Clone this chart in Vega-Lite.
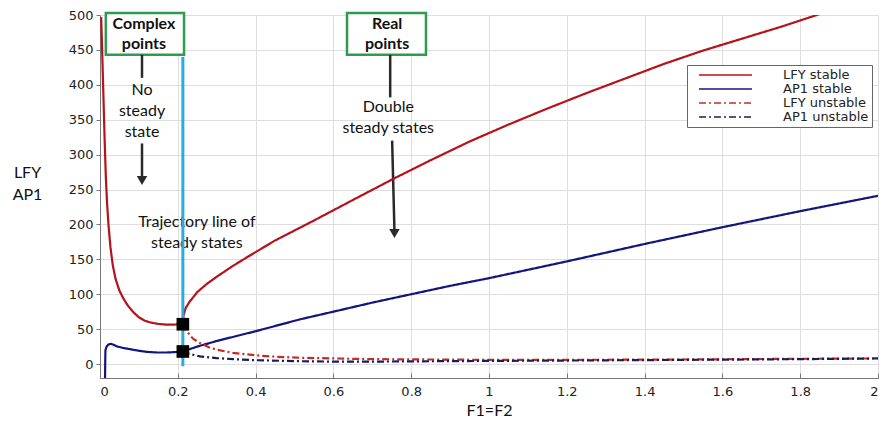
{
  "$schema": "https://vega.github.io/schema/vega-lite/v6.json",
  "width": 778,
  "height": 363,
  "autosize": {"type": "none"},
  "padding": {"left": 100, "top": 15, "right": 12, "bottom": 44},
  "background": "white",
  "config": {
    "view": {"stroke": null},
    "axis": {
      "domainColor": "#777",
      "gridColor": "#dedede",
      "tickColor": "#777",
      "labelFont": "DejaVu Sans",
      "labelFontSize": 13,
      "labelColor": "#222",
      "titleFont": "Lato",
      "titleFontSize": 16,
      "titleFontWeight": "normal",
      "titleColor": "#111"
    }
  },
  "datasets": {
    "curves": [
      {"series": "LFY stable", "x": 0.003, "y": 497}, {"series": "LFY stable", "x": 0.006, "y": 440},
      {"series": "LFY stable", "x": 0.009, "y": 380}, {"series": "LFY stable", "x": 0.012, "y": 320},
      {"series": "LFY stable", "x": 0.015, "y": 268}, {"series": "LFY stable", "x": 0.018, "y": 232},
      {"series": "LFY stable", "x": 0.022, "y": 198}, {"series": "LFY stable", "x": 0.027, "y": 167},
      {"series": "LFY stable", "x": 0.033, "y": 141}, {"series": "LFY stable", "x": 0.04, "y": 122},
      {"series": "LFY stable", "x": 0.05, "y": 105}, {"series": "LFY stable", "x": 0.06, "y": 94},
      {"series": "LFY stable", "x": 0.07, "y": 85}, {"series": "LFY stable", "x": 0.08, "y": 78},
      {"series": "LFY stable", "x": 0.09, "y": 72}, {"series": "LFY stable", "x": 0.1, "y": 67},
      {"series": "LFY stable", "x": 0.115, "y": 62}, {"series": "LFY stable", "x": 0.13, "y": 59.5},
      {"series": "LFY stable", "x": 0.15, "y": 57.5}, {"series": "LFY stable", "x": 0.17, "y": 56.5},
      {"series": "LFY stable", "x": 0.19, "y": 56.5}, {"series": "LFY stable", "x": 0.205, "y": 57},
      {"series": "LFY stable", "x": 0.213, "y": 57}, {"series": "LFY stable", "x": 0.2135, "y": 64},
      {"series": "LFY stable", "x": 0.215, "y": 70}, {"series": "LFY stable", "x": 0.22, "y": 80},
      {"series": "LFY stable", "x": 0.23, "y": 89}, {"series": "LFY stable", "x": 0.25, "y": 103},
      {"series": "LFY stable", "x": 0.275, "y": 115}, {"series": "LFY stable", "x": 0.3, "y": 125},
      {"series": "LFY stable", "x": 0.34, "y": 140}, {"series": "LFY stable", "x": 0.378, "y": 153},
      {"series": "LFY stable", "x": 0.45, "y": 177}, {"series": "LFY stable", "x": 0.548, "y": 205},
      {"series": "LFY stable", "x": 0.65, "y": 235},
      {"series": "LFY stable", "x": 0.753, "y": 265}, {"series": "LFY stable", "x": 0.85, "y": 292},
      {"series": "LFY stable", "x": 0.951, "y": 319}, {"series": "LFY stable", "x": 1.05, "y": 343},
      {"series": "LFY stable", "x": 1.15, "y": 366}, {"series": "LFY stable", "x": 1.25, "y": 388},
      {"series": "LFY stable", "x": 1.35, "y": 409}, {"series": "LFY stable", "x": 1.45, "y": 430},
      {"series": "LFY stable", "x": 1.55, "y": 449}, {"series": "LFY stable", "x": 1.65, "y": 466},
      {"series": "LFY stable", "x": 1.75, "y": 483}, {"series": "LFY stable", "x": 1.87, "y": 505},

      {"series": "AP1 stable", "x": 0.013, "y": -20}, {"series": "AP1 stable", "x": 0.0135, "y": 5},
      {"series": "AP1 stable", "x": 0.014, "y": 20}, {"series": "AP1 stable", "x": 0.017, "y": 25},
      {"series": "AP1 stable", "x": 0.022, "y": 28}, {"series": "AP1 stable", "x": 0.028, "y": 29},
      {"series": "AP1 stable", "x": 0.035, "y": 27.5}, {"series": "AP1 stable", "x": 0.045, "y": 25},
      {"series": "AP1 stable", "x": 0.06, "y": 23}, {"series": "AP1 stable", "x": 0.08, "y": 21},
      {"series": "AP1 stable", "x": 0.1, "y": 19}, {"series": "AP1 stable", "x": 0.12, "y": 17.5},
      {"series": "AP1 stable", "x": 0.146, "y": 16.5}, {"series": "AP1 stable", "x": 0.17, "y": 16.5},
      {"series": "AP1 stable", "x": 0.19, "y": 17}, {"series": "AP1 stable", "x": 0.213, "y": 18},
      {"series": "AP1 stable", "x": 0.25, "y": 25}, {"series": "AP1 stable", "x": 0.3, "y": 33},
      {"series": "AP1 stable", "x": 0.4, "y": 47}, {"series": "AP1 stable", "x": 0.514, "y": 64},
      {"series": "AP1 stable", "x": 0.6, "y": 75}, {"series": "AP1 stable", "x": 0.7, "y": 88},
      {"series": "AP1 stable", "x": 0.8, "y": 100}, {"series": "AP1 stable", "x": 0.9, "y": 112},
      {"series": "AP1 stable", "x": 1.0, "y": 123}, {"series": "AP1 stable", "x": 1.2, "y": 147},
      {"series": "AP1 stable", "x": 1.4, "y": 172}, {"series": "AP1 stable", "x": 1.6, "y": 196},
      {"series": "AP1 stable", "x": 1.8, "y": 219}, {"series": "AP1 stable", "x": 2.0, "y": 241},

      {"series": "LFY unstable", "x": 0.213, "y": 57}, {"series": "LFY unstable", "x": 0.22, "y": 50},
      {"series": "LFY unstable", "x": 0.23, "y": 42}, {"series": "LFY unstable", "x": 0.24, "y": 36},
      {"series": "LFY unstable", "x": 0.257, "y": 30}, {"series": "LFY unstable", "x": 0.28, "y": 24},
      {"series": "LFY unstable", "x": 0.3, "y": 20.5}, {"series": "LFY unstable", "x": 0.342, "y": 16},
      {"series": "LFY unstable", "x": 0.4, "y": 12.5}, {"series": "LFY unstable", "x": 0.45, "y": 10.5},
      {"series": "LFY unstable", "x": 0.514, "y": 9}, {"series": "LFY unstable", "x": 0.6, "y": 8},
      {"series": "LFY unstable", "x": 0.7, "y": 7}, {"series": "LFY unstable", "x": 0.85, "y": 6.5},
      {"series": "LFY unstable", "x": 1.0, "y": 6}, {"series": "LFY unstable", "x": 1.2, "y": 6},
      {"series": "LFY unstable", "x": 1.5, "y": 6.5}, {"series": "LFY unstable", "x": 1.8, "y": 7.5},
      {"series": "LFY unstable", "x": 2.0, "y": 8},

      {"series": "AP1 unstable", "x": 0.213, "y": 18}, {"series": "AP1 unstable", "x": 0.23, "y": 14.5},
      {"series": "AP1 unstable", "x": 0.257, "y": 11}, {"series": "AP1 unstable", "x": 0.3, "y": 8.5},
      {"series": "AP1 unstable", "x": 0.342, "y": 7}, {"series": "AP1 unstable", "x": 0.4, "y": 5.5},
      {"series": "AP1 unstable", "x": 0.514, "y": 4}, {"series": "AP1 unstable", "x": 0.6, "y": 3.5},
      {"series": "AP1 unstable", "x": 0.7, "y": 3.5}, {"series": "AP1 unstable", "x": 0.85, "y": 4},
      {"series": "AP1 unstable", "x": 1.0, "y": 4.5}, {"series": "AP1 unstable", "x": 1.2, "y": 5},
      {"series": "AP1 unstable", "x": 1.5, "y": 6}, {"series": "AP1 unstable", "x": 1.8, "y": 7},
      {"series": "AP1 unstable", "x": 2.0, "y": 8}
    ],
    "boxes": [
      {"x": 0.015, "x2": 0.216, "y": 503, "y2": 443},
      {"x": 0.635, "x2": 0.838, "y": 503, "y2": 443}
    ],
    "boxlabels": [
      {"x": 0.113, "y": 487, "text": "Complex"},
      {"x": 0.113, "y": 458, "text": "points"},
      {"x": 0.738, "y": 487, "text": "Real"},
      {"x": 0.738, "y": 458, "text": "points"}
    ],
    "notes": [
      {"x": 0.108, "y": 392, "text": "No"},
      {"x": 0.108, "y": 362, "text": "steady"},
      {"x": 0.108, "y": 333, "text": "state"},
      {"x": 0.741, "y": 368, "text": "Double"},
      {"x": 0.741, "y": 338, "text": "steady states"},
      {"x": 0.249, "y": 203, "text": "Trajectory line of"},
      {"x": 0.249, "y": 174, "text": "steady states"}
    ],
    "segments": [
      {"x": 0.108, "y": 443, "x2": 0.108, "y2": 410},
      {"x": 0.108, "y": 316, "x2": 0.108, "y2": 266},
      {"x": 0.746, "y": 443, "x2": 0.746, "y2": 382},
      {"x": 0.751, "y": 320, "x2": 0.757, "y2": 190}
    ],
    "heads": [
      {"x": 0.108, "y": 263},
      {"x": 0.757, "y": 187}
    ],
    "trajectory": [
      {"x": 0.213, "y": 440, "y2": -3}
    ],
    "squares": [
      {"x": 0.213, "y": 57},
      {"x": 0.213, "y": 18}
    ]
  },
  "encoding": {
    "x": {
      "field": "x", "type": "quantitative",
      "scale": {"domain": [0, 2], "nice": false},
      "axis": {
        "values": [0, 0.2, 0.4, 0.6, 0.8, 1, 1.2, 1.4, 1.6, 1.8, 2],
        "format": "~g",
        "tickSize": -5,
        "labelPadding": 12,
        "title": "F1=F2",
        "titlePadding": 4
      }
    },
    "y": {
      "field": "y", "type": "quantitative",
      "scale": {"domain": [-20, 500], "nice": false},
      "axis": {
        "values": [0, 50, 100, 150, 200, 250, 300, 350, 400, 450, 500],
        "tickSize": 4,
        "labelPadding": 3,
        "title": ["LFY", "AP1"],
        "titleAngle": 0,
        "titleAlign": "center",
        "titleBaseline": "middle",
        "titleX": -73,
        "titleY": 157,
        "titleLineHeight": 22
      }
    }
  },
  "layer": [
    {
      "data": {"name": "boxes"},
      "mark": {"type": "rect", "fill": "white", "stroke": "#2e9a52", "strokeWidth": 2.5, "clip": false},
      "encoding": {"x2": {"field": "x2"}, "y2": {"field": "y2"}}
    },
    {
      "data": {"name": "boxlabels"},
      "mark": {"type": "text", "font": "Lato", "fontSize": 16, "fontWeight": "bold", "color": "#111", "baseline": "middle", "align": "center"},
      "encoding": {"text": {"field": "text"}}
    },
    {
      "data": {"name": "notes"},
      "mark": {"type": "text", "font": "Lato", "fontSize": 16, "color": "#111", "baseline": "middle", "align": "center"},
      "encoding": {"text": {"field": "text"}}
    },
    {
      "data": {"name": "segments"},
      "mark": {"type": "rule", "color": "#2a2a2a", "strokeWidth": 2.5},
      "encoding": {"x2": {"field": "x2"}, "y2": {"field": "y2"}}
    },
    {
      "data": {"name": "heads"},
      "mark": {"type": "point", "shape": "triangle-down", "filled": true, "color": "#2a2a2a", "size": 110, "opacity": 1},
      "encoding": {}
    },
    {
      "data": {"name": "curves"},
      "mark": {"type": "line", "clip": true, "strokeWidth": 2.2},
      "encoding": {
        "color": {
          "field": "series", "type": "nominal",
          "scale": {"domain": ["LFY stable", "AP1 stable", "LFY unstable", "AP1 unstable"], "range": ["#b5121b", "#14147e", "#c42a2a", "#1c1c5a"]},
          "legend": {
            "orient": "none", "legendX": 587, "legendY": 50, "title": null,
            "symbolType": "stroke", "symbolSize": 2800, "symbolStrokeWidth": 1.5,
            "clipHeight": 14, "rowPadding": 0, "padding": 3,
            "symbolOffset": 8, "labelOffset": 30,
            "labelFont": "DejaVu Sans", "labelFontSize": 13, "labelColor": "#222",
            "fillColor": "white", "strokeColor": "#666"
          }
        },
        "strokeDash": {
          "field": "series", "type": "nominal",
          "scale": {"domain": ["LFY stable", "AP1 stable", "LFY unstable", "AP1 unstable"], "range": [[1, 0], [1, 0], [7, 3, 2, 3], [7, 3, 2, 3]]},
          "legend": {
            "orient": "none", "legendX": 587, "legendY": 50, "title": null,
            "symbolType": "stroke", "symbolSize": 2800, "symbolStrokeWidth": 1.5,
            "clipHeight": 14, "rowPadding": 0, "padding": 3,
            "symbolOffset": 8, "labelOffset": 30,
            "labelFont": "DejaVu Sans", "labelFontSize": 13, "labelColor": "#222",
            "fillColor": "white", "strokeColor": "#666"
          }
        }
      }
    },
    {
      "data": {"name": "trajectory"},
      "mark": {"type": "rule", "color": "#2aaae0", "strokeWidth": 3},
      "encoding": {"y2": {"field": "y2"}}
    },
    {
      "data": {"name": "squares"},
      "mark": {"type": "square", "filled": true, "color": "black", "size": 160, "opacity": 1},
      "encoding": {}
    }
  ]
}
